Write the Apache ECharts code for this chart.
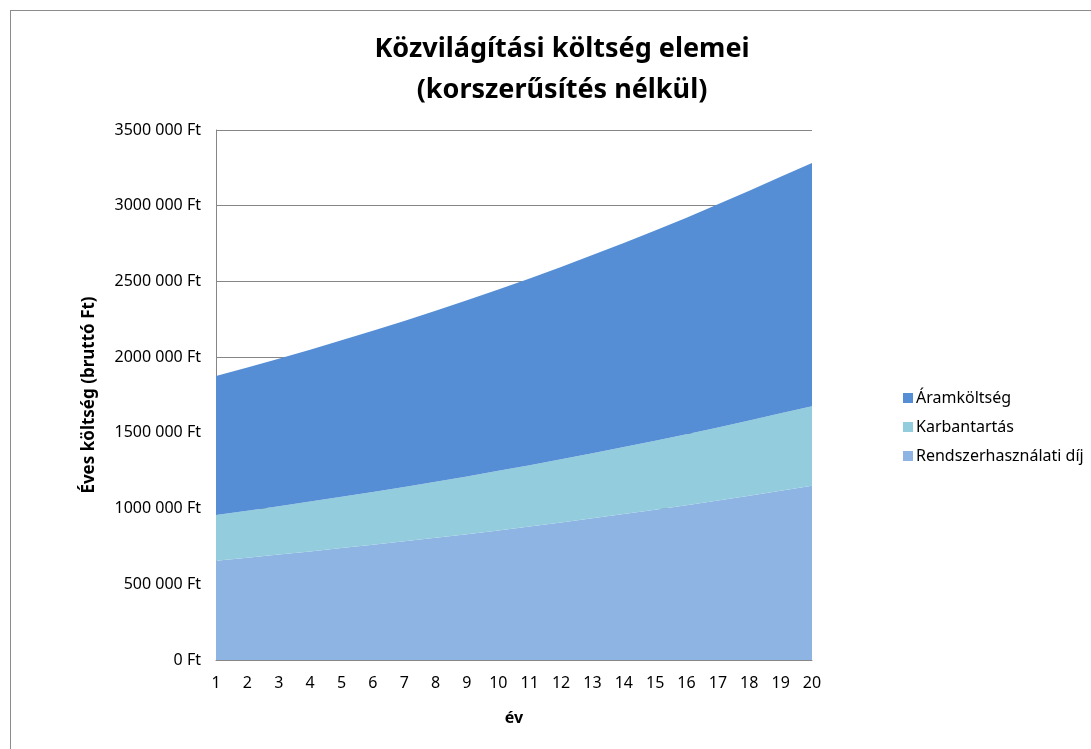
<!DOCTYPE html>
<html>
<head>
<meta charset="utf-8">
<script src="https://cdn.jsdelivr.net/npm/echarts@6/dist/echarts.min.js"></script>
<style>
  html, body { margin: 0; padding: 0; background: #fff; }
  #frame { position: absolute; left: 10px; top: 10px; width: 1100px; height: 760px; border: 1px solid #8c8c8c; box-sizing: border-box; }
  #chart { position: absolute; left: 0; top: 0; width: 1091px; height: 749px; }
</style>
</head>
<body>
<div id="frame"></div>
<div id="chart"></div>
<script>
// years on the x axis
const years = ['1', '2', '3', '4', '5', '6', '7', '8', '9', '10', '11', '12', '13', '14', '15', '16', '17', '18', '19', '20']

// yearly costs (Ft)
const rendszerhasznalati = [656000, 676000, 696000, 717000, 739000, 761000, 784000, 807000, 831000, 856000,
  882000, 908000, 936000, 964000, 993000, 1022000, 1053000, 1085000, 1117000, 1150000]
const karbantartas = [301000, 310000, 319000, 329000, 339000, 349000, 359000, 370000, 381000, 393000,
  404000, 417000, 429000, 442000, 455000, 469000, 483000, 497000, 512000, 525000]
const aramkoltseg = [918000, 946000, 974000, 1003000, 1033000, 1064000, 1096000, 1129000, 1163000, 1198000,
  1234000, 1271000, 1309000, 1348000, 1389000, 1430000, 1473000, 1517000, 1563000, 1607000]

const font = 'Noto Sans'
const gray = '#868686'

function ftLabel(v) {
  if (v === 0) return '0 Ft'
  return Math.floor(v / 1000) + ' ' + String(v % 1000).padStart(3, '0') + ' Ft'
}

function areaSeries(name, data, color) {
  return {
    name,
    type: 'line',
    stack: 'total',
    data,
    symbol: 'none',
    lineStyle: { width: 0 },
    areaStyle: { color, opacity: 1 },
    itemStyle: { color },
    emphasis: { disabled: true }
  }
}

const chart = echarts.init(document.getElementById('chart'))

chart.setOption({
  animation: false,
  textStyle: { fontFamily: font },
  title: {
    text: 'Közvilágítási költség elemei\n(korszerűsítés nélkül)',
    left: 557,
    top: 24,
    textAlign: 'center',
    textStyle: { fontFamily: font, fontSize: 27, fontWeight: 'bold', color: '#000', lineHeight: 41 }
  },
  legend: {
    orient: 'vertical',
    left: 898,
    top: 385,
    itemWidth: 10,
    itemHeight: 10,
    itemGap: 13,
    icon: 'rect',
    data: ['Áramköltség', 'Karbantartás', 'Rendszerhasználati díj'],
    textStyle: { fontFamily: font, fontSize: 16, color: '#000', padding: [0, 0, 0, -2] }
  },
  grid: { left: 216, right: 279, top: 130, bottom: 89 },
  xAxis: {
    type: 'category',
    data: years,
    boundaryGap: false,
    name: 'év',
    nameLocation: 'middle',
    nameGap: 50,
    nameTextStyle: { fontFamily: font, fontSize: 16, fontWeight: 'bold', color: '#000' },
    axisLine: { lineStyle: { color: gray, width: 1 } },
    axisTick: { show: false },
    axisLabel: { color: '#000', fontSize: 16, margin: 15, interval: 0 },
    splitLine: { show: false }
  },
  yAxis: {
    type: 'value',
    min: 0,
    max: 3500000,
    interval: 500000,
    name: 'Éves költség (bruttó Ft)',
    nameLocation: 'middle',
    nameGap: 118,
    nameTextStyle: { fontFamily: font, fontSize: 17, fontWeight: 'bold', color: '#000' },
    axisLine: { show: true, lineStyle: { color: gray, width: 1 } },
    axisTick: { show: false },
    axisLabel: { color: '#000', fontSize: 16, margin: 15, formatter: ftLabel },
    splitLine: { lineStyle: { color: gray, width: 1 } }
  },
  series: [
    areaSeries('Rendszerhasználati díj', rendszerhasznalati, '#8eb4e3'),
    areaSeries('Karbantartás', karbantartas, '#93cddd'),
    areaSeries('Áramköltség', aramkoltseg, '#558ed5')
  ]
})
</script>
</body>
</html>
